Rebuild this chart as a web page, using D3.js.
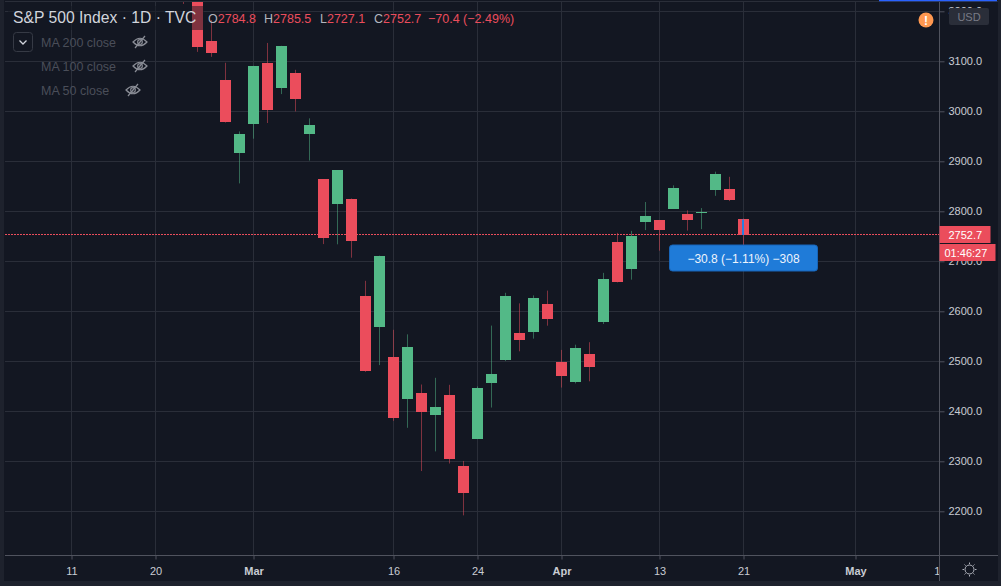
<!DOCTYPE html>
<html>
<head>
<meta charset="utf-8">
<script src="https://cdn.jsdelivr.net/npm/d3@7"></script>
<style>
  html, body { margin: 0; padding: 0; background: #131722; }
  svg { display: block; font-family: "Liberation Sans", Arial, sans-serif; }
</style>
</head>
<body>
<div id="chart"></div>
<script>
// daily candles, S&P 500 (TVC), Feb 24 - Apr 21 2020
var dates = ["2020-02-24","2020-02-25","2020-02-26","2020-02-27","2020-02-28",
    "2020-03-02","2020-03-03","2020-03-04","2020-03-05","2020-03-06",
    "2020-03-09","2020-03-10","2020-03-11","2020-03-12","2020-03-13",
    "2020-03-16","2020-03-17","2020-03-18","2020-03-19","2020-03-20",
    "2020-03-23","2020-03-24","2020-03-25","2020-03-26","2020-03-27",
    "2020-03-30","2020-03-31","2020-04-01","2020-04-02","2020-04-03",
    "2020-04-06","2020-04-07","2020-04-08","2020-04-09","2020-04-13",
    "2020-04-14","2020-04-15","2020-04-16","2020-04-17","2020-04-20","2020-04-21"];
var open  = [3257.6,3238.9,3139.9,3062.5,2916.9, 2974.3,3096.5,3045.8,3075.7,2954.2,
    2863.9,2813.5,2825.6,2630.9,2570.0, 2508.6,2425.7,2436.5,2393.5,2431.9,
    2290.7,2344.4,2457.8,2501.3,2555.9, 2559.0,2614.7,2498.1,2458.5,2514.9,
    2578.3,2738.7,2685.0,2777.0,2782.5, 2805.1,2795.6,2799.3,2842.4,2845.6,2784.8];
var high  = [3259.8,3247.0,3182.5,3097.1,2959.7, 3091.0,3136.7,3131.0,3083.0,2985.9,
    2863.9,2882.6,2825.6,2661.0,2711.3, 2563.0,2553.9,2453.6,2467.0,2453.0,
    2300.7,2449.7,2571.4,2637.0,2615.9, 2631.8,2641.4,2522.8,2533.2,2538.2,
    2676.9,2756.9,2760.8,2818.6,2782.5, 2851.9,2801.9,2806.5,2879.2,2869.0,2785.5];
var low   = [3214.7,3118.8,3109.0,2977.4,2855.8, 2945.2,2976.6,3034.4,2999.8,2901.5,
    2734.4,2734.0,2707.2,2478.9,2492.4, 2380.9,2367.0,2280.5,2319.8,2295.6,
    2191.9,2344.4,2407.5,2500.7,2520.0, 2545.3,2571.2,2447.5,2455.8,2460.0,
    2574.6,2657.7,2663.3,2762.4,2721.2, 2805.1,2761.5,2764.3,2830.9,2820.4,2727.1];
var close = [3225.9,3128.2,3116.4,2978.8,2954.2, 3090.2,3003.4,3130.1,3023.9,2972.4,
    2746.6,2882.2,2741.4,2480.6,2711.0, 2386.1,2529.2,2398.1,2409.4,2304.9,
    2237.4,2447.3,2475.6,2630.1,2541.5, 2626.7,2584.6,2470.5,2526.9,2488.7,
    2663.7,2659.4,2750.0,2789.8,2761.6, 2846.1,2783.4,2799.6,2874.6,2823.2,2752.7];

var priceTicks = [2200,2300,2400,2500,2600,2700,2800,2900,3000,3100,3200];
var timeTicks = ["2020-02-11","2020-02-20","2020-03-02","2020-03-16","2020-03-24",
    "2020-04-01","2020-04-13","2020-04-21","2020-05-01","2020-05-11"];
var timeTickLabels = ["11","20","Mar","16","24","Apr","13","21","May","11"];
var holidays = ["2020-02-17","2020-04-10"];

var ohlcLabels = ["O","H","L","C"];
var ohlcValues = ["2784.8","2785.5","2727.1","2752.7"];
var changeText = "\u221270.4 (\u22122.49%)";
var maNames = ["MA 200 close","MA 100 close","MA 50 close"];
var lastPrice = 2752.7;
var measureFrom = 2783.5;
var measureText = "\u221230.8 (\u22121.11%) \u2212308";
var timerText = "01:46:27";

var width = 1001, height = 586,
    plotRight = 939.5, plotBottom = 555.5, plotTop = 2;

var bg = "#131722", grid = "#2a2e39", axisCol = "#50535e", textCol = "#c9ccd3",
    up = "#53b987", down = "#eb4d5c";

// trading-day calendar so weekends / holidays take no room
var fmt = d3.utcFormat("%Y-%m-%d");
var days = d3.utcDay.range(new Date(Date.UTC(2020,1,3)), new Date(Date.UTC(2020,4,20)))
    .filter(function(d) { return d.getUTCDay() != 0 && d.getUTCDay() != 6 && holidays.indexOf(fmt(d)) < 0; })
    .map(fmt);
function idx(s) { return days.indexOf(s); }

var data = dates.map(function(d, i) {
    return {i: idx(d), o: open[i], h: high[i], l: low[i], c: close[i]};
});

var x = d3.scaleLinear()
    .domain([idx("2020-02-20"), idx("2020-04-21")])
    .range([155.5, 743.5]);
var y = d3.scaleLinear()
    .domain([2200, 3100])
    .range([511.3, 61.3]);

var svg = d3.select("#chart").append("svg")
    .attr("width", width)
    .attr("height", height);

svg.append("rect").attr("width", width).attr("height", height).attr("fill", bg);

var defs = svg.append("defs");
defs.append("clipPath").attr("id", "plot")
    .append("rect").attr("x", 5).attr("y", plotTop).attr("width", plotRight - 5).attr("height", plotBottom - plotTop);
defs.append("clipPath").attr("id", "xaxis")
    .append("rect").attr("x", 5).attr("y", 0).attr("width", plotRight - 5).attr("height", 30);

// grid
var gridG = svg.append("g").attr("clip-path", "url(#plot)");
gridG.selectAll(".hg").data(priceTicks).enter().append("line")
    .attr("x1", 0).attr("x2", plotRight)
    .attr("y1", function(d) { return Math.round(y(d)) + 0.5; })
    .attr("y2", function(d) { return Math.round(y(d)) + 0.5; })
    .attr("stroke", grid);
gridG.selectAll(".vg").data(timeTicks).enter().append("line")
    .attr("x1", function(d) { return x(idx(d)); })
    .attr("x2", function(d) { return x(idx(d)); })
    .attr("y1", 0).attr("y2", plotBottom)
    .attr("stroke", grid);

// candles
var candles = svg.append("g").attr("clip-path", "url(#plot)")
    .selectAll("g").data(data).enter().append("g");

candles.append("line")
    .attr("x1", function(d) { return x(d.i); })
    .attr("x2", function(d) { return x(d.i); })
    .attr("y1", function(d) { return y(d.h); })
    .attr("y2", function(d) { return y(d.l); })
    .attr("stroke", function(d) { return d.c >= d.o ? up : down; })
    .attr("stroke-opacity", 0.5);

candles.append("rect")
    .attr("x", function(d) { return x(d.i) - 5.5; })
    .attr("width", 11)
    .attr("y", function(d) { return Math.round(y(Math.max(d.o, d.c))); })
    .attr("height", function(d) { return Math.max(1, Math.round(Math.abs(y(d.o) - y(d.c)))); })
    .attr("fill", function(d) { return d.c >= d.o ? up : down; });

// last price line
svg.append("line")
    .attr("x1", 5).attr("x2", plotRight)
    .attr("y1", Math.round(y(lastPrice)) - 0.5).attr("y2", Math.round(y(lastPrice)) - 0.5)
    .attr("stroke", down).attr("stroke-dasharray", "2,1");

// measure tool on the last bar
var last = data[data.length - 1];
svg.append("line")
    .attr("x1", x(last.i) - 0.5).attr("x2", x(last.i) - 0.5)
    .attr("y1", y(measureFrom)).attr("y2", y(lastPrice))
    .attr("stroke", "#2a7fe0").attr("stroke-width", 2);
var mBox = svg.append("g")
    .attr("transform", "translate(" + x(last.i) + "," + (Math.round(y(lastPrice)) + 10) + ")");
mBox.append("rect")
    .attr("x", -74).attr("y", 0).attr("width", 148).attr("height", 26).attr("rx", 3)
    .attr("fill", "#1f7bd8").attr("stroke", "#1865b8");
mBox.append("text")
    .attr("x", 0).attr("y", 17.5)
    .attr("text-anchor", "middle")
    .attr("font-size", "12px")
    .attr("fill", "#eef4fc")
    .text(measureText);

// price axis
svg.append("g")
    .attr("transform", "translate(" + plotRight + ",0)")
    .call(d3.axisRight(y).tickValues(priceTicks).tickFormat(d3.format(".1f")).tickSize(5).tickPadding(4))
    .call(function(g) {
        g.select(".domain").remove();
        g.selectAll("line").attr("stroke", axisCol);
        g.selectAll("text").attr("fill", textCol).attr("font-size", "11px").attr("font-family", "Liberation Sans, Arial, sans-serif");
    });

// time axis
svg.append("g")
    .attr("transform", "translate(0," + plotBottom + ")")
    .attr("clip-path", "url(#xaxis)")
    .call(d3.axisBottom(x).tickValues(timeTicks.map(idx))
        .tickFormat(function(d, i) { return timeTickLabels[i]; })
        .tickSize(4).tickPadding(8))
    .call(function(g) {
        g.select(".domain").remove();
        g.selectAll("line").attr("stroke", axisCol);
        g.selectAll("text")
            .attr("fill", textCol)
            .attr("font-size", "11px")
            .attr("font-family", "Liberation Sans, Arial, sans-serif")
            .attr("font-weight", function(d, i) { return isNaN(+timeTickLabels[i]) ? "bold" : "normal"; });
    });

// borders
svg.append("line").attr("x1", 5).attr("x2", width).attr("y1", plotBottom).attr("y2", plotBottom).attr("stroke", axisCol);
svg.append("line").attr("x1", plotRight).attr("x2", plotRight).attr("y1", 0).attr("y2", 581).attr("stroke", axisCol);
svg.append("line").attr("x1", 5).attr("x2", 998).attr("y1", 1.5).attr("y2", 1.5).attr("stroke", grid);
svg.append("rect").attr("x", 0).attr("y", 0).attr("width", 4).attr("height", height).attr("fill", "#1e222d");
svg.append("rect").attr("x", 0).attr("y", 581).attr("width", width).attr("height", 5).attr("fill", "#1e222d");
svg.append("rect").attr("x", 998).attr("y", 0).attr("width", 3).attr("height", height).attr("fill", "#1e222d");
svg.append("line").attr("x1", 879).attr("x2", 997).attr("y1", 0.5).attr("y2", 0.5).attr("stroke", "#2962ff").attr("stroke-width", 1.5);

// price labels
var pl = svg.append("g").attr("transform", "translate(" + plotRight + "," + Math.round(y(lastPrice)) + ")");
pl.append("rect").attr("x", 0).attr("y", -9).attr("width", 51).attr("height", 17).attr("fill", down);
pl.append("text").attr("x", 9).attr("y", 4).attr("font-size", "11px").attr("fill", "#fff").text(lastPrice.toFixed(1));
pl.append("rect").attr("x", 0).attr("y", 9).attr("width", 56).attr("height", 17).attr("fill", down);
pl.append("text").attr("x", 5).attr("y", 22).attr("font-size", "11px").attr("fill", "#fff").text(timerText);

// currency button + warning
svg.append("rect").attr("x", 949).attr("y", 8).attr("width", 40).attr("height", 17).attr("rx", 2).attr("fill", "#2a2e39");
svg.append("text").attr("x", 969).attr("y", 20.5).attr("text-anchor", "middle").attr("font-size", "11px").attr("fill", "#787b86").text("USD");
svg.append("circle").attr("cx", 926).attr("cy", 20).attr("r", 7.5).attr("fill", "#ff9850");
svg.append("text").attr("x", 926).attr("y", 24.5).attr("text-anchor", "middle").attr("font-size", "12px").attr("font-weight", "bold").attr("fill", "#fff").text("!");

// settings icon
var gear = svg.append("g").attr("transform", "translate(969.5,569.5)");
gear.append("circle").attr("r", 4.5).attr("fill", "none").attr("stroke", "#b2b5be");
d3.range(8).forEach(function(k) {
    var a = k * Math.PI / 4;
    gear.append("line")
        .attr("x1", Math.cos(a) * 5.5).attr("y1", Math.sin(a) * 5.5)
        .attr("x2", Math.cos(a) * 7).attr("y2", Math.sin(a) * 7)
        .attr("stroke", "#b2b5be");
});

// legend
svg.append("rect").attr("x", 8).attr("y", 6).attr("width", 196).attr("height", 24).attr("fill", bg).attr("fill-opacity", 0.5);
svg.append("text").attr("x", 13).attr("y", 23).attr("font-size", "15.7px").attr("fill", "#d1d4dc")
    .text("S&P 500 Index \u00b7 1D \u00b7 TVC");

var ohlcX = [208, 264, 320, 374];
var ohlc = svg.append("text").attr("y", 23).attr("font-size", "12.5px");
ohlcLabels.forEach(function(l, i) {
    ohlc.append("tspan").attr("x", ohlcX[i]).attr("fill", "#b2b5be").text(l);
    ohlc.append("tspan").attr("fill", down).text(ohlcValues[i]);
});
ohlc.append("tspan").attr("x", 428).attr("fill", down).text(changeText);

svg.append("rect").attr("x", 13.5).attr("y", 32.5).attr("width", 19).attr("height", 19).attr("rx", 3)
    .attr("fill", "none").attr("stroke", "#363a45");
svg.append("path").attr("d", "M19.5,40.5 L23,44 L26.5,40.5").attr("fill", "none").attr("stroke", "#d1d4dc").attr("stroke-width", 1.3);

var maX = [140, 140, 133];
maNames.forEach(function(n, i) {
    var cy = 42 + i * 24;
    svg.append("text").attr("x", 41).attr("y", cy + 4.5).attr("font-size", "12.5px").attr("fill", "#4a4e59").text(n);
    var eye = svg.append("g").attr("transform", "translate(" + maX[i] + "," + cy + ")")
        .attr("fill", "none").attr("stroke", "#8a8d96").attr("stroke-width", 1.2);
    eye.append("path").attr("d", "M-7,0 Q0,-7.5 7,0 Q0,7.5 -7,0 Z");
    eye.append("circle").attr("r", 2.3);
    eye.append("line").attr("x1", -5).attr("y1", 6).attr("x2", 5).attr("y2", -6);
});
</script>
</body>
</html>
